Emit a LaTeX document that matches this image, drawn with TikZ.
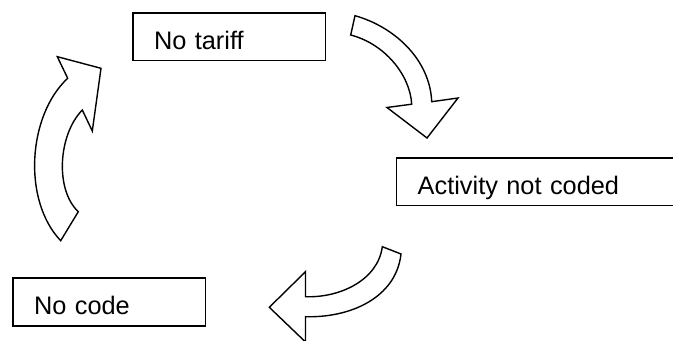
\documentclass[tikz,border=0pt]{standalone}
\usepackage{fontspec}
\setmainfont{Liberation Sans}
\begin{document}
\begin{tikzpicture}[x=0.75pt,y=-0.75pt,
  box/.style={draw=black, line width=1.1pt, fill=white, anchor=north west,
    inner xsep=15.75pt, inner ysep=0pt, align=left,
    text height=27pt, text depth=8.8pt,
    font=\fontsize{19}{22}\selectfont},
  blockarrow/.style={draw=black, fill=white, line width=1.05pt, line join=miter}]
\useasboundingbox (0,0) rectangle (673,341);
\fill[white] (0,0) rectangle (673,341);
\begin{scope}
\clip (0,0) rectangle (673,341);
\node[box, text width=113pt] (nt) at (132.3,12.3) {No tariff};
\node[box, text width=196pt] (anc) at (396,157.3) {Activity not coded};
\node[box, text width=113pt] (nc) at (12.3,277.3) {No code};
% arrow: No tariff -> Activity not coded
\draw[blockarrow] (355,15.7) .. controls (395,27) and (430,60) .. (431.7,101.7)
  -- (458,98) -- (427,138) -- (387,107.5) -- (411.7,104.2)
  .. controls (410,75) and (385,44) .. (350.7,35) -- cycle;
% arrow: Activity not coded -> No code
\draw[blockarrow] (382.3,246.7) .. controls (378,280) and (340,298) .. (305.5,296.7)
  -- (305.5,271.7) -- (269.3,307.3) -- (305.5,342) -- (305.5,316.7)
  .. controls (350,318) and (396,298) .. (401,254) -- cycle;
% arrow: No code -> No tariff
\draw[blockarrow] (60.7,240.7) .. controls (22,200) and (28,115) .. (67.7,78.3)
  -- (57.3,56.7) -- (101,68.3) -- (92.3,131) -- (82.3,110)
  .. controls (58,135) and (55,190) .. (78.3,211.7) -- cycle;
\end{scope}
\end{tikzpicture}
\end{document}
